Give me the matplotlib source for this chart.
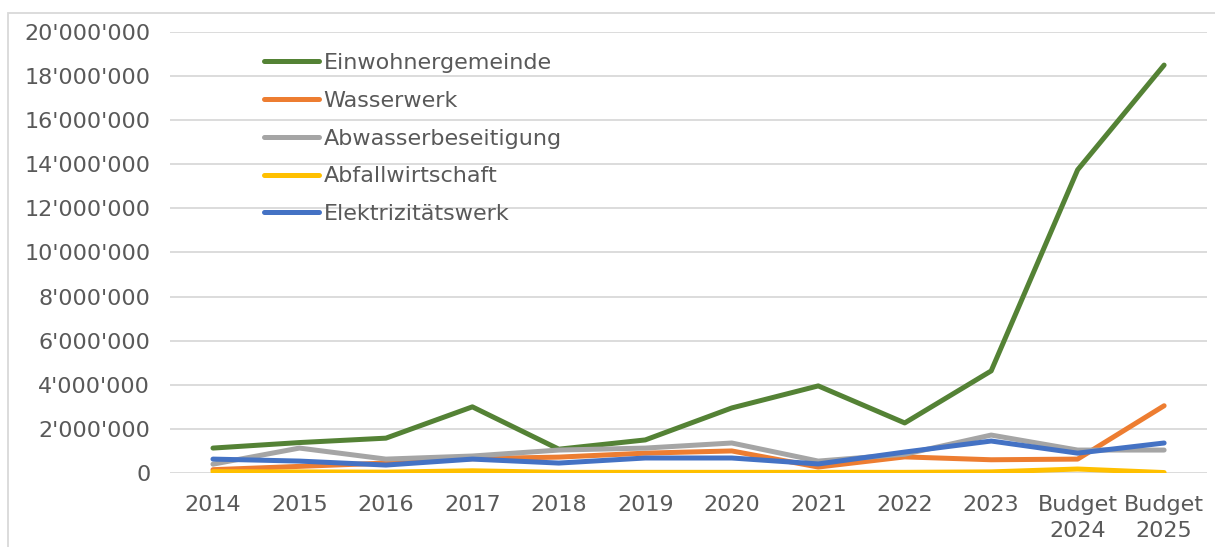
import matplotlib.pyplot as plt
from matplotlib.ticker import FuncFormatter
from matplotlib.patches import Rectangle

# Jahre / Budgets
years = ['2014', '2015', '2016', '2017', '2018', '2019', '2020', '2021', '2022', '2023',
         'Budget\n2024', 'Budget\n2025']

# Werte in CHF
einwohnergemeinde = [1130000, 1380000, 1580000, 3000000, 1080000, 1500000, 2950000, 3950000,
                     2270000, 4630000, 13750000, 18500000]
wasserwerk = [150000, 300000, 450000, 650000, 720000, 900000, 1000000, 270000,
              730000, 600000, 630000, 3050000]
abwasser = [400000, 1130000, 630000, 770000, 1040000, 1130000, 1360000, 540000,
            850000, 1720000, 1040000, 1040000]
abfall = [60000, 50000, 40000, 100000, 30000, 30000, 30000, 30000,
          30000, 50000, 180000, 20000]
elektrizitaet = [630000, 540000, 360000, 630000, 450000, 680000, 680000, 410000,
                 950000, 1450000, 900000, 1360000]

series = [
    ('Einwohnergemeinde', einwohnergemeinde, '#548235'),
    ('Wasserwerk', wasserwerk, '#ED7D31'),
    ('Abwasserbeseitigung', abwasser, '#A5A5A5'),
    ('Abfallwirtschaft', abfall, '#FFC000'),
    ('Elektrizitätswerk', elektrizitaet, '#4472C4'),
]

txt = '#595959'
fs = 16
plt.rcParams['font.family'] = 'DejaVu Sans'

fig = plt.figure(figsize=(12.15, 5.47), dpi=100)
ax = fig.add_axes([0.1397, 0.1353, 0.854, 0.8062])

x = list(range(len(years)))
for name, vals, col in series:
    ax.plot(x, vals, color=col, lw=3.6, label=name, solid_capstyle='round', solid_joinstyle='round')

ax.set_xlim(-0.5, len(years) - 0.5)
ax.set_ylim(0, 20000000)
ax.set_yticks(range(0, 20000001, 2000000))
ax.yaxis.set_major_formatter(FuncFormatter(lambda v, p: f'{int(v):,}'.replace(',', "'")))
ax.set_xticks(x)
ax.set_xticklabels(years, linespacing=1.35)
ax.tick_params(axis='both', length=0, colors=txt, labelsize=fs)
ax.tick_params(axis='y', pad=14)
ax.tick_params(axis='x', pad=16)
ax.grid(axis='y', color='#D9D9D9', lw=1.3)
ax.set_axisbelow(True)
for s in ax.spines.values():
    s.set_visible(False)

leg = ax.legend(loc='upper left', bbox_to_anchor=(0.217, 0.903), bbox_transform=fig.transFigure,
                frameon=False, fontsize=fs, handlelength=2.5, handletextpad=0.2,
                labelspacing=0.8, borderpad=0, borderaxespad=0)
for t in leg.get_texts():
    t.set_color(txt)

# Rahmen um das Diagramm
fig.patches.append(Rectangle((8 / 1215, -0.1), 1.2, 1 - 13 / 547 + 0.1, transform=fig.transFigure,
                             fill=False, edgecolor='#D9D9D9', lw=1.3))

fig.savefig('out.png', dpi=100)
